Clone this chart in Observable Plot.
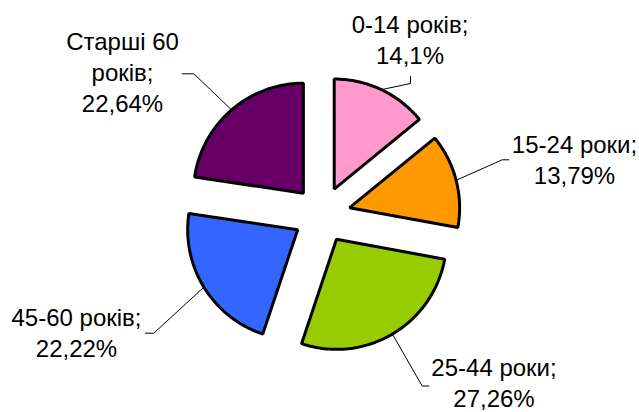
<!DOCTYPE html>
<html><head><meta charset="utf-8">
<script src="https://cdn.jsdelivr.net/npm/d3@7"></script>
<script src="https://cdn.jsdelivr.net/npm/@observablehq/plot@0.6"></script>
<style>html,body{margin:0;padding:0;background:#fff}</style>
</head><body><div id="chart"></div>
<script>
// ---- data ----
const categories = ["0-14 років", "15-24 роки", "25-44 роки", "45-60 років", "Старші 60 років"];
const categoryLabels = ["0-14 років;", "15-24 роки;", "25-44 роки;", "45-60 років;", "Старші 60\nроків;"];
const values = [14.1, 13.79, 27.26, 22.22, 22.64];
const colors = ["#FF99CC", "#FF9900", "#99CC00", "#3366FF", "#660066"];

// ---- layout ----
const W = 639, H = 412;
const cx = 321.5, cy = 214.3, R = 110, EXPLODE = 28.5;
// label block: centre x, baseline of last line
const labelAnchor = [[409.5, 63.5], [574, 183.5], [493.5, 406], [76, 356], [122, 111.5]];
// leader line: elbow point, end point
const leaderPath = [
  [[410, 83], [410, 76]],
  [[501.7, 159.3], [508.3, 159.3]],
  [[421.7, 385.5], [428.3, 385.5]],
  [[153.3, 332.7], [145, 332.7]],
  [[193.3, 73.3], [181.7, 73.3]]
];

const total = d3.sum(values);
const slices = [];
const leaders = [];
const labels = [];
let acc = 0;
values.forEach((v, i) => {
  const a0 = acc / total * 2 * Math.PI;
  acc += v;
  const a1 = acc / total * 2 * Math.PI;
  const mid = (a0 + a1) / 2;
  const ox = cx + EXPLODE * Math.sin(mid), oy = cy - EXPLODE * Math.cos(mid);
  const key = categories[i];
  slices.push({key, x: ox, y: oy});
  const N = 80;
  for (let k = 0; k <= N; k++) {
    const a = a0 + (a1 - a0) * k / N;
    slices.push({key, x: ox + R * Math.sin(a), y: oy - R * Math.cos(a)});
  }
  leaders.push({key, x: ox + R * Math.sin(mid), y: oy - R * Math.cos(mid)});
  leaderPath[i].forEach(([x, y]) => leaders.push({key, x, y}));
  labels.push({
    key,
    x: labelAnchor[i][0],
    y: labelAnchor[i][1],
    text: categoryLabels[i] + "\n" + String(v).replace(".", ",") + "%"
  });
});

const chart = Plot.plot({
  width: W,
  height: H,
  margin: 0,
  x: {domain: [0, W], range: [0, W], axis: null},
  y: {domain: [0, H], range: [0, H], axis: null},
  color: {domain: categories, range: colors},
  style: {background: "#fff", overflow: "visible"},
  marks: [
    Plot.line(leaders, {x: "x", y: "y", z: "key", stroke: "black", strokeWidth: 1}),
    Plot.line(slices, {x: "x", y: "y", z: "key", fill: "key", stroke: "black", strokeWidth: 3,
      strokeLinejoin: "miter", curve: "linear-closed"}),
    Plot.text(labels, {x: "x", y: "y", text: "text", fontSize: 24, lineHeight: 1.29,
      lineAnchor: "bottom", textAnchor: "middle", fill: "black",
      fontFamily: "'Liberation Sans', Arial, sans-serif"})
  ]
});
document.getElementById("chart").appendChild(chart);
</script>
</body></html>
